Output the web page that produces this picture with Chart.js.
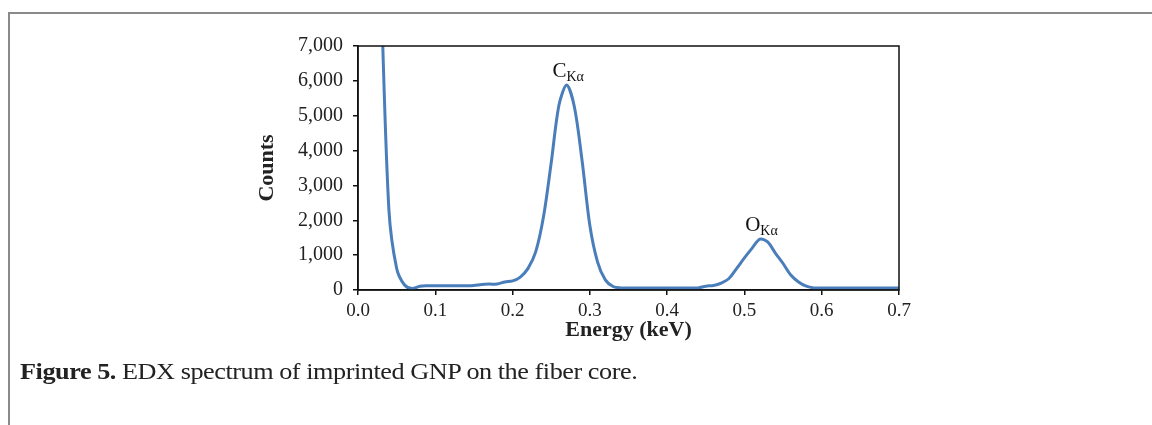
<!DOCTYPE html>
<html>
<head>
<meta charset="utf-8">
<title>EDX spectrum</title>
<script src="https://cdn.jsdelivr.net/npm/chart.js"></script>
<style>
  html, body { margin: 0; padding: 0; background: #fff; }
  body { width: 1152px; height: 425px; position: relative; overflow: hidden; }
  .frame { position: absolute; left: 8px; top: 12px; width: 1200px; height: 500px;
           border-top: 2px solid #8a8a8a; border-left: 2px solid #8a8a8a; }
  #wrap { position: absolute; left: 0; top: 0; width: 1152px; height: 425px; }
  .caption { position: absolute; left: 20px; top: 359px; font-family: "Liberation Serif", serif;
             font-size: 23px; line-height: 26px; color: #222; white-space: nowrap;
             letter-spacing: -0.4px; transform: scaleX(1.14); transform-origin: left center; }
  .caption b { font-weight: bold; }
</style>
</head>
<body>
<div class="frame"></div>
<div id="wrap"><canvas id="edx"></canvas></div>
<div class="caption"><b>Figure 5.</b> EDX spectrum of imprinted GNP on the fiber core.</div>

<script>
// Energy channels (keV) and detected counts
const energy = [
  0.03, 0.04, 0.05, 0.06, 0.07, 0.08, 0.09, 0.10, 0.11, 0.12,
  0.13, 0.14, 0.15, 0.16, 0.17, 0.18, 0.19, 0.20, 0.21, 0.22,
  0.23, 0.24, 0.25, 0.26, 0.27, 0.28, 0.29, 0.30, 0.31, 0.32,
  0.33, 0.34, 0.35, 0.36, 0.37, 0.38, 0.39, 0.40, 0.41, 0.42,
  0.43, 0.44, 0.45, 0.46, 0.47, 0.48, 0.49, 0.50, 0.51, 0.52,
  0.53, 0.54, 0.55, 0.56, 0.57, 0.58, 0.59, 0.60, 0.61, 0.62,
  0.63, 0.64, 0.65, 0.66, 0.67, 0.68, 0.69, 0.70
];
const counts = [
  8400, 2300, 620, 150, 40, 110, 120, 120, 120, 120,
  120, 120, 130, 160, 170, 170, 230, 260, 370, 620,
  1100, 2100, 3650, 5300, 5880, 5250, 3700, 1850, 800, 290,
  100, 60, 60, 60, 60, 60, 60, 60, 60, 60,
  60, 60, 110, 130, 200, 330, 620, 920, 1200, 1460,
  1380, 1060, 760, 430, 230, 110, 60, 55, 55, 55,
  55, 55, 55, 55, 55, 55, 55, 55
];

// Axis ticks
const xTicks = [0.0, 0.1, 0.2, 0.3, 0.4, 0.5, 0.6, 0.7];
const yTicks = [0, 1000, 2000, 3000, 4000, 5000, 6000, 7000];

// Peak labels: element, line, energy, counts at label baseline
const peakNames = ['C', 'O'];
const peakLines = ['Kα', 'Kα'];
const peakEnergy = [0.272, 0.522];
const peakLabelY = [6100, 1680];

const serif = '"Liberation Serif", "Times New Roman", serif';

// Box around the plot area plus peak labels with subscripts
const boxAndLabels = {
  id: 'boxAndLabels',
  afterDatasetsDraw(chart) {
    const { ctx, chartArea: a, scales } = chart;
    ctx.save();
    ctx.strokeStyle = '#111';
    ctx.lineWidth = 1.5;
    ctx.strokeRect(a.left, a.top, a.right - a.left, a.bottom - a.top);

    ctx.fillStyle = '#111';
    ctx.textBaseline = 'alphabetic';
    ctx.textAlign = 'left';
    peakNames.forEach((name, i) => {
      const x = scales.x.getPixelForValue(peakEnergy[i]);
      const y = scales.y.getPixelForValue(peakLabelY[i]);
      ctx.font = '21px ' + serif;
      const w1 = ctx.measureText(name).width;
      ctx.font = '14px ' + serif;
      const w2 = ctx.measureText(peakLines[i]).width;
      const x0 = x - (w1 + w2) / 2;
      ctx.font = '21px ' + serif;
      ctx.fillText(name, x0, y);
      ctx.font = '14px ' + serif;
      ctx.fillText(peakLines[i], x0 + w1, y + 4);
    });
    ctx.restore();
  }
};

const points = energy.map((e, i) => ({ x: e, y: counts[i] }));

new Chart(document.getElementById('edx'), {
  type: 'line',
  data: {
    datasets: [{
      data: points,
      borderColor: '#4a7ebb',
      borderWidth: 3,
      pointRadius: 0,
      tension: 0.3,
      fill: false
    }]
  },
  options: {
    responsive: true,
    maintainAspectRatio: false,
    animation: false,
    events: [],
    layout: { padding: { left: 254, right: 253, top: 46, bottom: 81 } },
    plugins: { legend: { display: false }, tooltip: { enabled: false } },
    scales: {
      x: {
        type: 'linear',
        min: 0,
        max: 0.7,
        afterFit: s => { s.height = 54; },
        afterBuildTicks: s => { s.ticks = xTicks.map(v => ({ value: v })); },
        grid: { drawOnChartArea: false, drawTicks: true, tickLength: 5, color: '#111', lineWidth: 1.5 },
        border: { display: true, color: '#111', width: 1.5 },
        ticks: {
          color: '#222',
          padding: 5,
          font: { family: serif, size: 19 },
          callback: v => v.toFixed(1)
        },
        title: {
          display: true,
          text: 'Energy (keV)',
          color: '#222',
          padding: 0,
          font: { family: serif, size: 22, weight: 'bold' }
        }
      },
      y: {
        min: 0,
        max: 7000,
        afterFit: s => { s.width = 104; },
        afterBuildTicks: s => { s.ticks = yTicks.map(v => ({ value: v })); },
        grid: { drawOnChartArea: false, drawTicks: true, tickLength: 5, color: '#111', lineWidth: 1.5 },
        border: { display: true, color: '#111', width: 1.5 },
        ticks: {
          color: '#222',
          padding: 10,
          font: { family: serif, size: 20 },
          callback: v => v.toLocaleString('en-US')
        },
        title: {
          display: true,
          text: 'Counts',
          color: '#222',
          padding: 0,
          font: { family: serif, size: 22, weight: 'bold' }
        }
      }
    }
  },
  plugins: [boxAndLabels]
});
</script>
</body>
</html>
